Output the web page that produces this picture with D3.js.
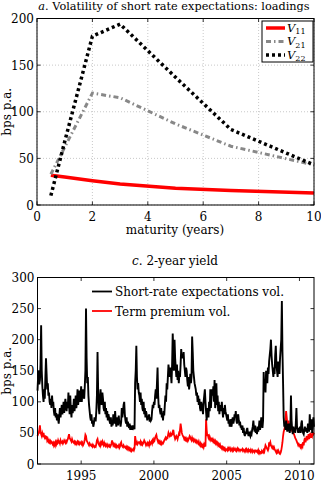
<!DOCTYPE html>
<html>
<head>
<meta charset="utf-8">
<script src="https://cdn.jsdelivr.net/npm/d3@7"></script>
<style>
  body { margin: 0; background: #fff; }
  svg text { font-family: "DejaVu Serif"; }
</style>
</head>
<body>
<div id="chart"></div>
<script>
//Data, panel a
var maturities = [0.5, 1, 2, 3, 5, 7, 10];
var v11 = [32, 30, 26, 22.5, 18, 15.5, 13];
var v21 = [33, 62, 120, 115, 87, 63, 43];
var v22 = [10, 68, 181, 194, 137, 81, 43];
var matTicks = [0, 2, 4, 6, 8, 10];
var loadTicks = [0, 50, 100, 150, 200];

//Data, panel c (semi-monthly, 1992.0 .. 2011.0)
var startYear = 1992;
var shortRateVol = [
  118,140,150,128,135,160,223,150,125,110,100,120,105,140,170,145,120,130,110,115,100,95,105,90,
  110,95,100,85,78,90,75,82,70,80,72,65,78,90,75,85,95,80,88,100,82,95,105,90,
  85,100,90,115,95,80,110,88,75,95,82,90,105,85,95,110,90,100,120,95,105,118,100,110,
  125,100,115,120,110,105,125,150,250,170,130,140,110,95,85,75,70,80,65,70,60,65,75,70,
  70,85,110,180,120,90,80,105,120,100,95,115,105,90,85,100,80,90,75,85,70,80,75,68,
  65,75,60,70,62,80,72,65,85,70,60,75,68,62,78,65,70,60,68,90,75,85,95,100,
  80,70,65,75,60,68,62,58,65,55,60,58,55,62,58,60,56,130,150,190,140,120,130,115,
  110,100,115,95,105,90,85,100,80,90,75,85,80,70,78,72,80,68,75,70,72,85,95,90,
  100,95,110,120,105,130,155,110,90,95,85,80,90,75,80,70,85,78,95,110,100,130,120,140,
  160,150,140,155,145,130,160,210,180,150,200,170,155,140,160,135,150,130,145,140,160,185,170,175,
  170,180,160,150,140,155,150,135,125,140,120,130,145,130,140,205,180,150,140,130,125,120,110,115,
  100,110,95,105,90,85,100,95,90,80,100,110,120,100,85,70,90,80,75,100,85,120,90,110,
  120,110,125,100,135,90,100,130,95,110,85,100,80,95,85,90,100,85,75,90,80,95,85,80,
  75,70,80,65,70,60,72,65,60,70,75,65,70,80,75,85,70,65,75,80,70,62,68,60,
  60,55,62,50,58,48,45,52,48,55,58,50,45,52,48,45,50,48,55,60,70,58,52,62,
  50,55,48,60,52,58,70,55,62,75,68,58,70,148,120,135,115,150,140,130,155,145,165,175,
  185,200,175,160,150,140,155,145,175,190,160,150,140,165,150,145,170,185,200,262,180,130,75,60,
  65,55,70,58,52,60,65,55,50,58,110,70,55,48,60,52,58,50,65,90,60,55,50,58,
  55,60,50,65,70,55,50,48,55,60,52,58,55,50,65,60,52,80,60,55,72,50,58,75,
  60
];
var termPremVol = [
  45,48,50,55,62,52,48,45,50,47,50,44,42,46,40,45,38,40,36,38,35,37,34,36,
  35,32,34,30,33,30,35,32,36,34,38,35,36,33,38,35,34,36,33,35,38,36,34,37,
  35,38,40,44,48,42,40,38,36,40,37,35,34,36,33,35,32,34,36,33,35,32,34,33,
  35,32,34,30,32,35,40,47,45,38,36,34,32,30,33,31,30,29,31,28,30,28,27,29,
  28,32,38,40,35,32,30,33,30,35,33,36,32,30,34,31,29,32,30,28,31,29,28,30,
  28,30,33,38,34,30,32,29,31,28,30,27,29,28,30,26,28,33,35,30,28,27,30,28,
  27,26,28,25,27,24,26,23,25,22,24,21,23,22,24,22,25,45,38,33,35,32,34,35,
  35,33,36,32,34,31,33,35,38,36,33,30,32,34,31,33,30,35,32,34,36,33,38,36,
  40,38,42,45,47,42,38,35,37,34,36,33,35,32,34,33,35,38,40,42,38,44,40,45,
  50,47,45,48,44,50,46,52,55,48,44,40,42,45,43,40,44,48,45,55,65,58,50,47,
  45,43,40,42,39,41,38,40,37,39,42,45,43,40,38,42,39,37,40,38,36,38,35,37,
  35,33,36,32,30,33,29,31,28,30,27,32,30,28,72,55,45,48,42,40,44,41,38,40,
  38,40,36,38,35,37,33,35,32,34,30,32,29,31,27,28,25,27,24,26,23,25,22,24,
  24,22,25,23,26,24,22,25,23,21,24,22,25,23,22,24,21,23,25,22,24,23,21,23,
  23,22,24,21,23,22,20,23,21,24,22,20,23,21,22,20,23,21,19,22,20,21,19,22,
  22,20,21,19,22,18,20,17,19,18,21,19,18,22,20,25,30,28,26,24,22,25,35,32,
  35,30,28,26,28,25,27,24,22,20,18,21,19,22,20,17,16,18,22,28,35,45,52,55,
  60,70,85,75,65,62,70,60,58,62,55,60,52,55,50,48,45,42,40,38,35,33,30,32,
  30,28,32,27,30,28,35,30,38,42,35,40,45,38,42,48,40,45,50,42,48,45,50,48,
  50
];
var yearTicks = [1995, 2000, 2005, 2010];
var volTicks = [0, 50, 100, 150, 200, 250, 300];

var width = 321, height = 501;
var svg = d3.select("#chart").append("svg")
  .attr("width", width).attr("height", height);

// helper: MATLAB style box with inward ticks on all sides
function drawFrame(x, y, xt, yt, grid) {
  var x0 = x.range()[0], x1 = x.range()[1], y0 = y.range()[0], y1 = y.range()[1];
  var g = svg.append("g");
  if (grid) {
    g.selectAll(".gx").data(xt).enter().append("line")
      .attr("x1", function(d) { return x(d); }).attr("x2", function(d) { return x(d); })
      .attr("y1", y0).attr("y2", y1)
      .attr("stroke", "#bbb").attr("stroke-width", 0.8).attr("stroke-dasharray", "1,2");
    g.selectAll(".gy").data(yt).enter().append("line")
      .attr("y1", function(d) { return y(d); }).attr("y2", function(d) { return y(d); })
      .attr("x1", x0).attr("x2", x1)
      .attr("stroke", "#bbb").attr("stroke-width", 0.8).attr("stroke-dasharray", "1,2");
  }
  var tk = 3.5;
  xt.forEach(function(d) {
    g.append("line").attr("x1", x(d)).attr("x2", x(d)).attr("y1", y0).attr("y2", y0 - tk).attr("stroke", "#000").attr("stroke-width", 0.8);
    g.append("line").attr("x1", x(d)).attr("x2", x(d)).attr("y1", y1).attr("y2", y1 + tk).attr("stroke", "#000").attr("stroke-width", 0.8);
  });
  yt.forEach(function(d) {
    g.append("line").attr("y1", y(d)).attr("y2", y(d)).attr("x1", x0).attr("x2", x0 + tk).attr("stroke", "#000").attr("stroke-width", 0.8);
    g.append("line").attr("y1", y(d)).attr("y2", y(d)).attr("x1", x1).attr("x2", x1 - tk).attr("stroke", "#000").attr("stroke-width", 0.8);
  });
  g.selectAll(".xl").data(xt).enter().append("text")
    .attr("x", function(d) { return x(d); }).attr("y", y0 + 15.5)
    .attr("text-anchor", "middle").attr("font-size", 12)
    .text(function(d) { return d; });
  g.selectAll(".yl").data(yt).enter().append("text")
    .attr("x", x0 - 3).attr("y", function(d) { return y(d) + 4.5; })
    .attr("text-anchor", "end").attr("font-size", 12)
    .text(function(d) { return d; });
  return g;
}

function boxOn(x, y) {
  svg.append("rect")
    .attr("x", x.range()[0]).attr("y", y.range()[1])
    .attr("width", x.range()[1] - x.range()[0]).attr("height", y.range()[0] - y.range()[1])
    .attr("fill", "none").attr("stroke", "#000").attr("stroke-width", 1);
}

//Panel a
var xa = d3.scaleLinear().domain([0, 10]).range([37, 314]);
var ya = d3.scaleLinear().domain([0, 200]).range([205, 18.5]);
drawFrame(xa, ya, matTicks, loadTicks, true);

var lineA = function(vals) {
  return d3.line()
    .x(function(d, i) { return xa(maturities[i]); })
    .y(function(d) { return ya(d); })(vals);
};
var seriesA = [
  { key: "11", vals: v11, color: "#ff0000", w: 3.5, dash: null },
  { key: "21", vals: v21, color: "#888888", w: 3, dash: "5,3,1.5,3" },
  { key: "22", vals: v22, color: "#000000", w: 3.5, dash: "3,3" }
];
seriesA.forEach(function(s) {
  svg.append("path").attr("d", lineA(s.vals))
    .attr("fill", "none").attr("stroke", s.color).attr("stroke-width", s.w)
    .attr("stroke-dasharray", s.dash);
});
boxOn(xa, ya);

svg.append("text").attr("x", 174).attr("y", 10).attr("text-anchor", "middle").attr("font-size", 11.3)
  .html('<tspan font-style="italic">a</tspan>. Volatility of short rate expectations: loadings');
svg.append("text").attr("x", 175).attr("y", 234).attr("text-anchor", "middle").attr("font-size", 12)
  .text("maturity (years)");
svg.append("text").attr("transform", "translate(11," + ((ya.range()[0] + ya.range()[1]) / 2) + ") rotate(-90)")
  .attr("text-anchor", "middle").attr("font-size", 12).text("bps p.a.");

//Legend a
var lg = svg.append("g").attr("transform", "translate(262,21)");
lg.append("rect").attr("width", 51).attr("height", 41).attr("fill", "#fff").attr("stroke", "#000").attr("stroke-width", 1);
var lgi = lg.selectAll(".legend").data(seriesA).enter().append("g")
  .attr("transform", function(d, i) { return "translate(0," + (7 + i * 13.5) + ")"; });
lgi.append("line").attr("x1", 4).attr("x2", 23).attr("y1", 0).attr("y2", 0)
  .attr("stroke", function(d) { return d.color; }).attr("stroke-width", function(d) { return d.w; })
  .attr("stroke-dasharray", function(d) { return d.dash; });
lgi.append("text").attr("x", 25).attr("y", 3.5).attr("font-size", 11.5)
  .html(function(d) { return '<tspan font-style="italic">V</tspan><tspan font-size="8" dy="2.5">' + d.key + '</tspan>'; });

//Panel c
var xc = d3.scaleLinear().domain([1992, 2011]).range([37.5, 314]);
var yc = d3.scaleLinear().domain([0, 300]).range([464, 277.5]);
drawFrame(xc, yc, yearTicks, volTicks, false);

var lineC = d3.line()
  .x(function(d, i) { return xc(startYear + i / 24); })
  .y(function(d) { return yc(d); });
svg.append("path").attr("d", lineC(termPremVol))
  .attr("fill", "none").attr("stroke", "#ff0000").attr("stroke-width", 1.8);
svg.append("path").attr("d", lineC(shortRateVol))
  .attr("fill", "none").attr("stroke", "#000").attr("stroke-width", 1.9);
boxOn(xc, yc);

svg.append("text").attr("x", 175).attr("y", 265).attr("text-anchor", "middle").attr("font-size", 12)
  .html('<tspan font-style="italic">c</tspan>. 2-year yield');
svg.append("text").attr("transform", "translate(11," + ((yc.range()[0] + yc.range()[1]) / 2) + ") rotate(-90)")
  .attr("text-anchor", "middle").attr("font-size", 12).text("bps p.a.");

var legC = [
  { name: "Short-rate expectations vol.", color: "#000" },
  { name: "Term premium vol.", color: "#ff0000" }
];
var lc = svg.selectAll(".legc").data(legC).enter().append("g")
  .attr("transform", function(d, i) { return "translate(92," + (291.5 + i * 19.5) + ")"; });
lc.append("line").attr("x1", 0).attr("x2", 20).attr("y1", 0).attr("y2", 0)
  .attr("stroke", function(d) { return d.color; }).attr("stroke-width", 1.8);
lc.append("text").attr("x", 23).attr("y", 4.5).attr("font-size", 12).text(function(d) { return d.name; });
</script>
</body>
</html>
